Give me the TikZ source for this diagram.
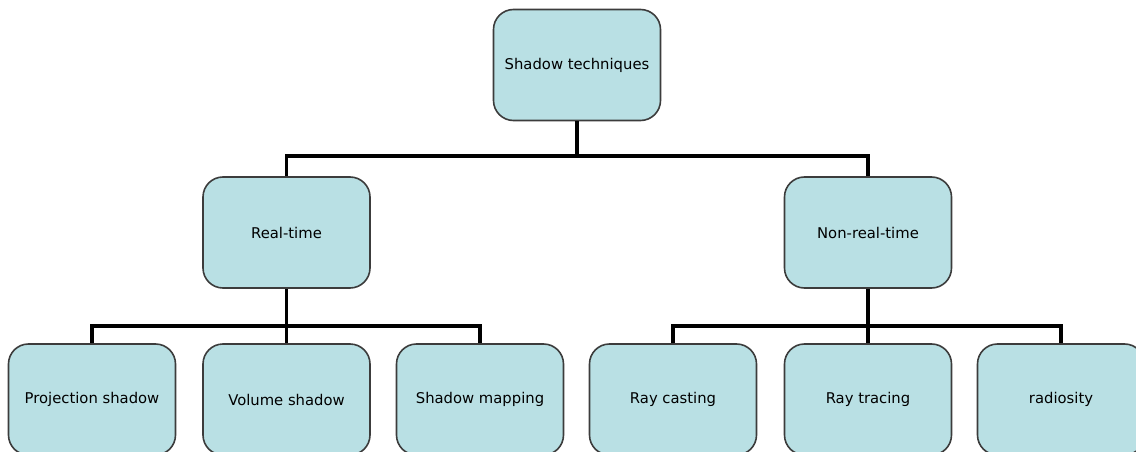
\documentclass[tikz,border=0pt]{standalone}
\usepackage{fontspec}
\setmainfont{DejaVu Sans}
\definecolor{boxfill}{RGB}{185,224,228}
\definecolor{boxline}{RGB}{60,60,60}
\tikzset{
  box/.style={draw=boxline, line width=1.6pt, fill=boxfill, rounded corners=20pt,
    minimum width=167pt, minimum height=111pt, inner sep=0pt,
    font=\fontsize{14.8pt}{17pt}\selectfont},
  conn/.style={draw=black, line width=3.2pt, line join=miter}
}
\begin{document}
\begin{tikzpicture}[x=1pt,y=-1pt]
\clip (0,0) rectangle (1136,452);
\fill[white] (0,0) rectangle (1136,452);
\node[box] (top) at (577,65) {Shadow techniques};
\node[box] (rt) at (286.5,232.5) {Real-time};
\node[box] (nrt) at (868,232.5) {Non-real-time};
\node[box] (ps) at (92,399.5) {Projection shadow};
\node[box] (vs) at (286.5,399.5) {Volume shadow};
\node[box] (sm) at (480,399.5) {Shadow mapping};
\node[box] (rc) at (673,399.5) {Ray casting};
\node[box] (rtr) at (868,399.5) {Ray tracing};
\node[box] (rad) at (1061,399.5) {radiosity};
\coordinate (j1) at (577,156);
\coordinate (j2) at (286.5,326);
\coordinate (j3) at (868,326);
\draw[conn] (top.south) -- (j1);
\draw[conn] (rt.north) |- (j1) -| (nrt.north);
\draw[conn] (rt.south) -- (j2);
\draw[conn] (ps.north) |- (j2) -| (sm.north);
\draw[conn] (j2) -- (vs.north);
\draw[conn] (nrt.south) -- (j3);
\draw[conn] (rc.north) |- (j3) -| (rad.north);
\draw[conn] (j3) -- (rtr.north);
\end{tikzpicture}
\end{document}
